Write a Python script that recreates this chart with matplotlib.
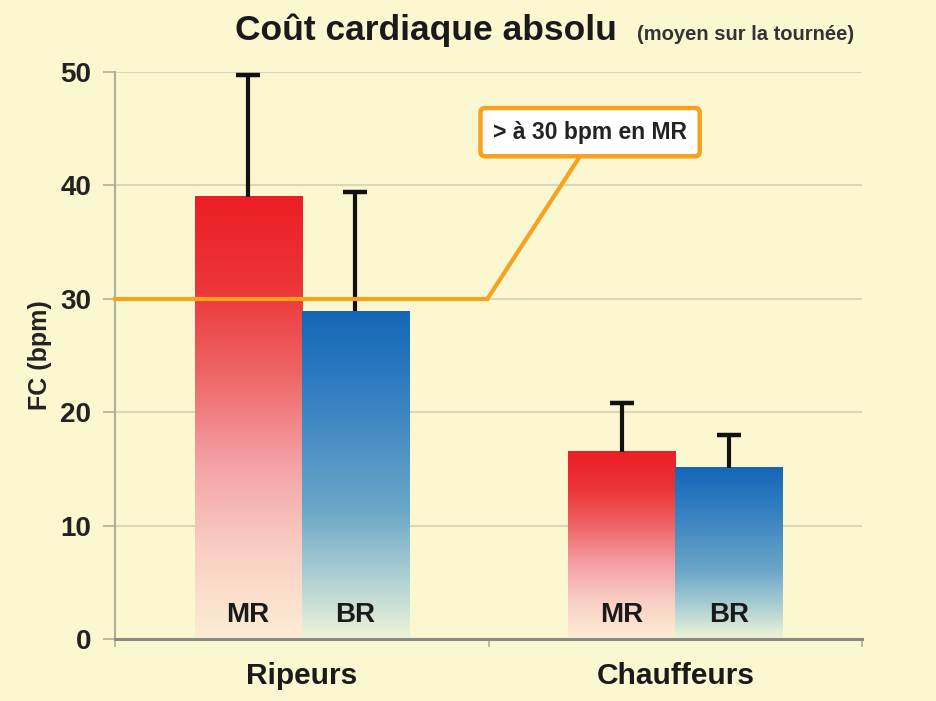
import numpy as np
import matplotlib
matplotlib.use("Agg")
import matplotlib.pyplot as plt
from matplotlib.colors import LinearSegmentedColormap

# donnees
groupes = ["Ripeurs", "Chauffeurs"]
series = ["MR", "BR"]
moyennes = {"MR": [39.0, 16.5], "BR": [28.9, 15.1]}
ecarts = {"MR": [10.7, 4.3], "BR": [10.5, 2.9]}
seuil = 30
yticks = [0, 10, 20, 30, 40, 50]

plt.rcParams['font.family'] = ['Liberation Sans', 'DejaVu Sans']

fond = "#FBF7D0"
rouge = LinearSegmentedColormap.from_list("rouge", ["#FDEDD3", "#F9CFC4", "#F4A0A5", "#EF6566", "#EC3537", "#EB1E25"])
bleu = LinearSegmentedColormap.from_list("bleu", ["#EFF4D8", "#A9CDD3", "#6AA6C8", "#4B90C4", "#2C7AC0", "#1467B6"])
cmaps = {"MR": rouge, "BR": bleu}

fig = plt.figure(figsize=(9.37, 7.01), dpi=100, facecolor=fond)
ax = fig.add_axes([0.1227, 0.0884, 0.7973, 0.8088])
ax.set_facecolor(fond)

larg = 0.287
x = np.arange(len(groupes))
decal = {"MR": -larg / 2, "BR": larg / 2}
grad = np.linspace(0, 1, 256).reshape(-1, 1)

for s in series:
    for i, v in enumerate(moyennes[s]):
        xc = x[i] + decal[s]
        ax.imshow(grad, cmap=cmaps[s], extent=[xc - larg / 2, xc + larg / 2, 0, v],
                  origin="lower", aspect="auto", zorder=2)
        # barre d'erreur vers le haut seulement
        haut = v + ecarts[s][i]
        ax.plot([xc, xc], [v, haut], color="#111111", lw=3, zorder=3, solid_capstyle="butt")
        ax.plot([xc], [haut], marker="_", ms=17, mew=3.2, color="#111111", zorder=3)
        ax.text(xc, 1.0, s, ha="center", va="bottom", fontsize=20, fontweight="bold",
                color="#1a1a1a", zorder=4)

# ligne seuil + annotation
ax.plot([-0.5, 0.497], [seuil, seuil], color="#F6A21E", lw=3, zorder=3, clip_on=False)
ax.annotate("> à 30 bpm en MR", xy=(0.497, seuil), xytext=(0.772, 44.7),
            ha="center", va="center", fontsize=16.5, fontweight="bold", color="#222222",
            bbox=dict(boxstyle="round,pad=0.55,rounding_size=0.2", fc="white", ec="#F6A21E", lw=3.2),
            arrowprops=dict(arrowstyle="-", color="#F6A21E", lw=3, shrinkA=0, shrinkB=0,
                            relpos=(0.49, 0.0)),
            zorder=5)

ax.set_xlim(-0.5, 1.5)
ax.set_ylim(0, 50)
ax.set_yticks(yticks)
ax.set_yticklabels([str(t) for t in yticks], fontsize=20, fontweight="bold", color="#222222")
ax.set_xticks([-0.5, 0.5, 1.5])
ax.set_xticklabels([])
ax.tick_params(axis="y", length=9, color="#B0AE98", width=1.2, pad=8)
ax.tick_params(axis="x", length=6, color="#B0AE98", width=1.2)
for i, g in enumerate(groupes):
    ax.text(x[i], -3.25, g, ha="center", va="center", fontsize=21.5, fontweight="bold",
            color="#1a1a1a")

ax.grid(axis="y", color="#DAD7B8", lw=1.5, zorder=0)
ax.set_axisbelow(True)
for sp in ["top", "right"]:
    ax.spines[sp].set_visible(False)
ax.spines["left"].set_color("#B0AE98")
ax.spines["left"].set_linewidth(1.5)
ax.spines["bottom"].set_color("#8A8A80")
ax.spines["bottom"].set_linewidth(2.2)

ax.set_ylabel("FC (bpm)", fontsize=18, fontweight="bold", color="#222222", labelpad=6)

fig.text(0.251, 0.957, "Coût cardiaque absolu", fontsize=25.5, fontweight="bold",
         color="#1a1a1a", ha="left", va="center")
fig.text(0.68, 0.951, "(moyen sur la tournée)", fontsize=14.5, fontweight="bold",
         color="#333333", ha="left", va="center")

fig.savefig("out.png", dpi=100, facecolor=fond)
